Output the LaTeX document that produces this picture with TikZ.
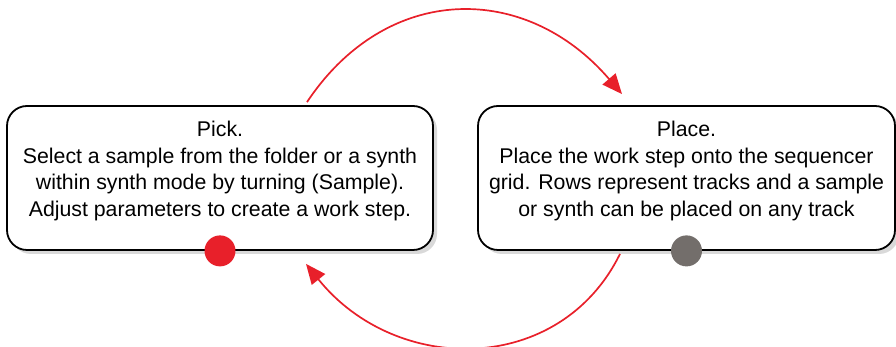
\documentclass[tikz,border=0pt]{standalone}
\usepackage{fontspec}
\setmainfont{Liberation Sans}
\usetikzlibrary{arrows.meta,shadows,calc}
\definecolor{arrred}{HTML}{E8202A}
\definecolor{dotgray}{HTML}{736E6B}
\begin{document}
\begin{tikzpicture}[x=1pt,y=1pt,
  stagebox/.style={draw=black,line width=1.8pt,rounded corners=20pt,fill=white,
    minimum height=144pt,
    drop shadow={shadow xshift=4pt,shadow yshift=-4pt,fill=black!15,opacity=1}},
  stagetext/.style={align=center,font=\fontsize{21.3}{26.7}\selectfont,inner sep=0pt},
  dot/.style={circle,minimum size=31pt,inner sep=0pt},
  cyc/.style={draw=arrred,line width=1.7pt,-{Triangle[length=20pt,width=17pt]}}]
\useasboundingbox (0,0) rectangle (896,347);
\node[stagebox,minimum width=426pt] (pick) at (220,169) {};
\node[stagebox,minimum width=417pt] (place) at (686.5,169) {};
\node[stagetext] (picktext) at (220,176) {Pick.\\Select a sample from the folder or a synth\\within synth mode by turning (Sample).\\Adjust parameters to create a work step.};
\node[stagetext] (placetext) at (686.5,176) {Place.\\Place the work step onto the sequencer\\grid. Rows represent tracks and a sample\\or synth can be placed on any track};
\node[dot,fill=arrred] (pickdot) at (pick.south) {};
\node[dot,fill=dotgray] (placedot) at (place.south) {};
\coordinate (t0) at ([xshift=87pt,yshift=3pt]pick.north);
\coordinate (t1) at ([xshift=-64.5pt,yshift=11pt]place.north);
\coordinate (b0) at ([xshift=-66.5pt,yshift=-3pt]place.south);
\coordinate (b1) at ([xshift=86pt,yshift=-13pt]pick.south);
\draw[cyc] (t0) .. controls ($(t0)+(80,120)$) and ($(t1)+(-96,112)$) .. (t1);
\draw[cyc] (b0) .. controls ($(b0)+(-60,-122)$) and ($(b1)+(90,-112)$) .. (b1);
\end{tikzpicture}
\end{document}
